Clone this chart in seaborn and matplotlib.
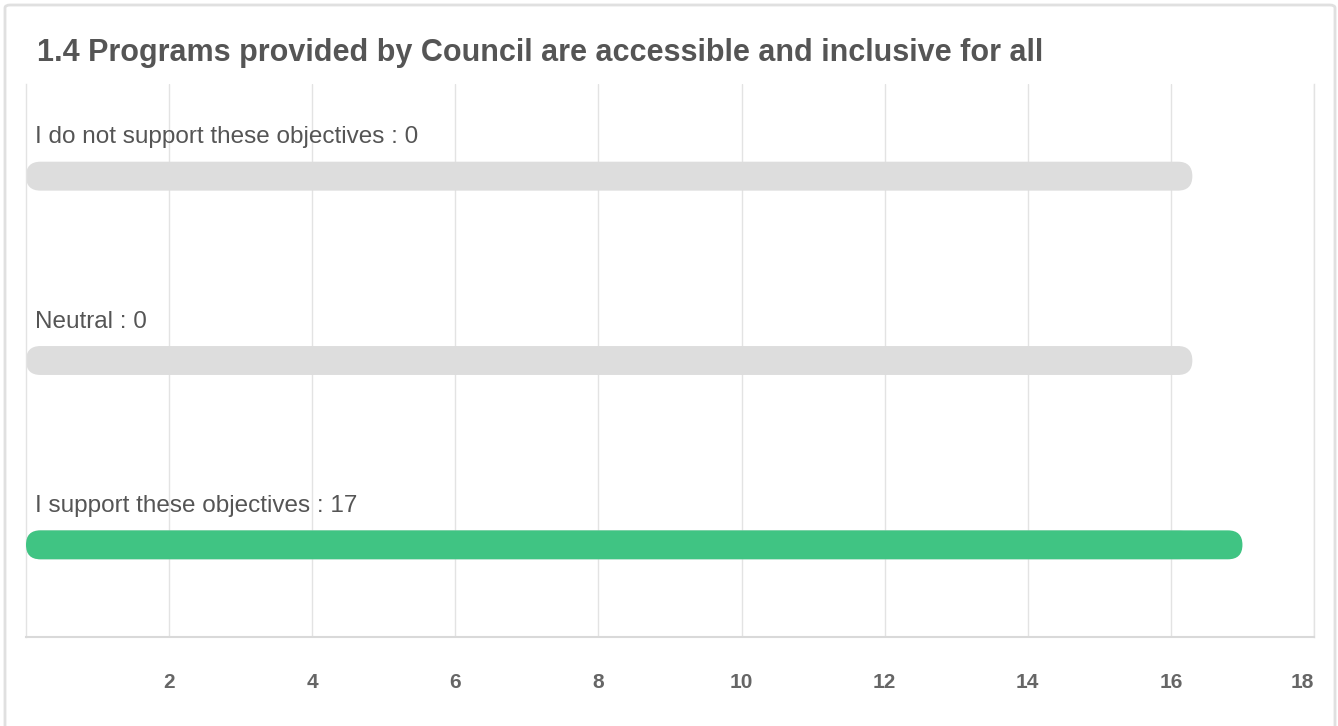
import matplotlib
matplotlib.use("Agg")
import matplotlib.pyplot as plt
from matplotlib.patches import FancyBboxPatch
import seaborn as sns
import pandas as pd

# Survey responses
title = "1.4 Programs provided by Council are accessible and inclusive for all"
categories = ["I do not support these objectives", "Neutral", "I support these objectives"]
counts = [0, 0, 17]
track_length = 16.3
x_ticks = [2, 4, 6, 8, 10, 12, 14, 16, 18]

GREEN = "#40c483"
TRACK = "#dddddd"
TEXT = "#555555"
GRID = "#e3e3e3"

sns.set_theme(style="white")
plt.rcParams["font.family"] = ["Liberation Sans", "DejaVu Sans"]

W, H = 1338, 726
fig = plt.figure(figsize=(W / 100, H / 100), dpi=100)
ax = fig.add_axes([26 / W, 1 - 637 / H, (1314 - 26) / W, (637 - 84) / H])

df = pd.DataFrame({"category": categories, "count": counts,
                   "track": [track_length] * len(categories)})

bar_w = 0.157
sns.barplot(data=df, x="track", y="category", order=categories, color=TRACK,
            width=bar_w, ax=ax, saturation=1, zorder=2)
n_track = len(ax.patches)
sns.barplot(data=df, x="count", y="category", order=categories, color=GREEN,
            width=bar_w, ax=ax, saturation=1, zorder=3)

ax.set_xlim(0, 18)
ax.set_ylim(len(categories) - 0.5, -0.5)

# convert the rectangular bars into pill shapes with semicircular ends
fig.canvas.draw()
bbox = ax.get_window_extent()
px_per_x = bbox.width / 18
px_per_y = bbox.height / len(categories)
aspect = px_per_x / px_per_y
for i, p in enumerate(list(ax.patches)):
    x, y = p.get_x(), p.get_y()
    w, h = p.get_width(), p.get_height()
    p.remove()
    if w <= 0:
        continue
    r = (h / aspect) / 2
    color = TRACK if i < n_track else GREEN
    pill = FancyBboxPatch((x, y), w, h,
                          boxstyle=f"round,pad=0,rounding_size={r}",
                          mutation_aspect=aspect, fc=color, ec="none",
                          zorder=2 if i < n_track else 3)
    ax.add_patch(pill)

for i, (cat, val) in enumerate(zip(categories, counts)):
    ax.text(0.13, i - 0.21, f"{cat} : {val}", fontsize=17.5, color=TEXT,
            va="center", ha="left", zorder=4)

ax.set_xticks(x_ticks)
ax.set_xticklabels([str(t) for t in x_ticks])
ax.tick_params(axis="x", length=0, pad=26, labelsize=15, labelcolor="#666666")
for lbl in ax.get_xticklabels():
    lbl.set_fontweight("bold")
ax.get_xticklabels()[-1].set_ha("right")
ax.set_yticks([])
ax.set_xlabel("")
ax.set_ylabel("")
ax.grid(axis="x", color=GRID, linewidth=1, zorder=0)
ax.set_axisbelow(True)
for side in ["left", "bottom", "right"]:
    ax.spines[side].set_visible(True)
    ax.spines[side].set_color(GRID)
    ax.spines[side].set_linewidth(1)
ax.spines["bottom"].set_color("#d9d9d9")
ax.spines["bottom"].set_linewidth(1.5)
ax.spines["top"].set_visible(False)

fig.text(37 / W, 1 - 53 / H, title, fontsize=22, fontweight="bold",
         color=TEXT, va="center", ha="left")

# card border
card = FancyBboxPatch((5 / W, -0.05), (1335 - 5) / W, 1 + 0.05 - 5 / H,
                      boxstyle="round,pad=0,rounding_size=0.004",
                      transform=fig.transFigure, fc="none", ec="#e0e0e0",
                      lw=2, zorder=-1)
fig.patches.append(card)

fig.savefig("out.png", dpi=100)
